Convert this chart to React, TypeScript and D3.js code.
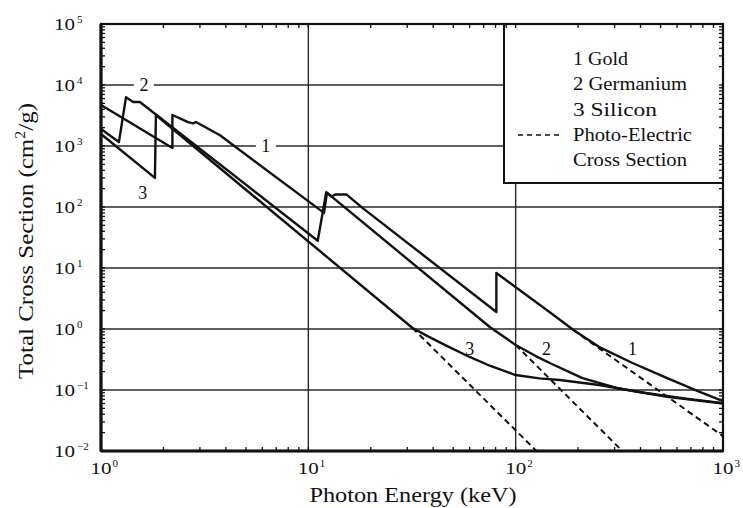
import * as d3 from 'd3';

// curves: [photon energy keV, cross section cm2/g]
const goldCurve: [number, number][] = [
  [1, 4700], [2.21, 930], [2.21, 3220], [2.63, 2470], [2.78, 2350], [2.87, 2470],
  [3.75, 1500], [11.9, 80], [12.3, 170], [12.9, 150], [13.5, 160], [15.3, 160],
  [18.3, 96], [80.7, 1.9], [80.7, 8.3], [150, 1.76], [190, 0.96], [252, 0.51],
  [366, 0.277], [538, 0.157], [772, 0.093], [1000, 0.066],
];
const germaniumCurve: [number, number][] = [
  [1, 1900], [1.22, 1160], [1.32, 6300], [1.43, 5250], [1.54, 5250], [11.1, 28],
  [12.2, 175], [75, 1.08], [100, 0.547], [125, 0.36], [146, 0.277], [210, 0.157],
  [307, 0.108], [538, 0.077], [1000, 0.06],
];
const siliconCurve: [number, number][] = [
  [1, 1570], [1.82, 300], [1.84, 3220], [31.8, 1.04], [38, 0.75], [45.5, 0.55],
  [60, 0.348], [75, 0.25], [100, 0.176], [130, 0.155], [163, 0.146], [253, 0.121],
  [400, 0.092], [650, 0.073], [1000, 0.061],
];

// photo-electric part (dashed)
const goldPhoto: [number, number][] = [[190, 0.96], [1000, 0.0175]];
const germaniumPhoto: [number, number][] = [[100, 0.547], [327, 0.01]];
const siliconPhoto: [number, number][] = [[31.8, 1.04], [126, 0.01]];

const xDecades = [0, 1, 2, 3];
const yDecades = [-2, -1, 0, 1, 2, 3, 4, 5];

const curveLabels: { text: string; e: number; s: number }[] = [
  { text: '2', e: 1.61, s: 1e4 },
  { text: '1', e: 6.24, s: 1e3 },
  { text: '3', e: 1.59, s: 170 },
  { text: '3', e: 60, s: 0.47 },
  { text: '2', e: 141, s: 0.47 },
  { text: '1', e: 366, s: 0.47 },
];

const legendItems = ['1 Gold', '2 Germanium', '3 Silicon', 'Photo-Electric', 'Cross Section'];
const legendWidths = [55, 114, 84, 119, 114];

const FONT = 'Liberation Serif, Times New Roman, serif';

export default function App() {
  const width = 743;
  const height = 508;
  const left = 101, right = 723, top = 24, bottom = 451;

  const x = d3.scaleLog().domain([1, 1000]).range([left, right]);
  const y = d3.scaleLog().domain([0.01, 1e5]).range([bottom, top]);
  const line = d3.line<[number, number]>().x(d => x(d[0])).y(d => y(d[1]));

  const xMinor = x.ticks().filter(t => t > 1 && t < 1000);
  const yMinor = y.ticks().filter(t => t > 0.01 && t < 1e5);

  const legend = { x0: 504, y0: top, x1: right, y1: 183 };

  return (
    <svg width={width} height={height} style={{ position: 'absolute', left: 0, top: 0, background: '#fff' }}>
      <rect width={width} height={height} fill="#fff" />
      <g style={{ fontFamily: FONT }}>

        {/* grid */}
        {yDecades.filter(k => k > -2 && k < 5).map(k => (
          <line key={'gy' + k} x1={left} x2={right} y1={y(10 ** k)} y2={y(10 ** k)}
            stroke="#2a2a2a" strokeWidth={1.4} />
        ))}
        {[10, 100].map(v => (
          <line key={'gx' + v} x1={x(v)} x2={x(v)} y1={top} y2={bottom} stroke="#2a2a2a" strokeWidth={1.4} />
        ))}

        {/* curves */}
        {[goldPhoto, germaniumPhoto, siliconPhoto].map((d, i) => (
          <path key={'p' + i} d={line(d) ?? ''} fill="none" stroke="#111" strokeWidth={2}
            strokeDasharray="6,4" />
        ))}
        {[goldCurve, germaniumCurve, siliconCurve].map((d, i) => (
          <path key={'c' + i} d={line(d) ?? ''} fill="none" stroke="#111" strokeWidth={2.4}
            strokeLinejoin="round" />
        ))}

        {/* curve numbers */}
        {curveLabels.map((l, i) => (
          <g key={'l' + i}>
            <rect x={x(l.e) - 10} y={y(l.s) - 8} width={20} height={16} fill="#fff" opacity={l.s >= 1e3 ? 1 : 0} />
            <text x={x(l.e)} y={y(l.s) + 6} textAnchor="middle" fontSize={18} fill="#111">{l.text}</text>
          </g>
        ))}

        {/* legend */}
        <rect x={legend.x0} y={legend.y0} width={legend.x1 - legend.x0} height={legend.y1 - legend.y0}
          fill="#fff" stroke="#111" strokeWidth={2} />
        {legendItems.map((t, i) => (
          <text key={t} x={573} y={65 + i * 25.3} fontSize={18} fill="#111"
            textLength={legendWidths[i]} lengthAdjust="spacingAndGlyphs">{t}</text>
        ))}
        <line x1={518} x2={560} y1={135} y2={135} stroke="#111" strokeWidth={1.5} strokeDasharray="5,4" />

        {/* frame and minor ticks */}
        {xMinor.map((t, i) => (
          <g key={'xt' + i}>
            <line x1={x(t)} x2={x(t)} y1={bottom} y2={bottom - 4} stroke="#111" strokeWidth={1.3} />
            <line x1={x(t)} x2={x(t)} y1={top} y2={top + 4} stroke="#111" strokeWidth={1.3} />
          </g>
        ))}
        {yMinor.map((t, i) => (
          <g key={'yt' + i}>
            <line x1={left} x2={left + 4} y1={y(t)} y2={y(t)} stroke="#111" strokeWidth={1.3} />
            <line x1={right} x2={right - 4} y1={y(t)} y2={y(t)} stroke="#111" strokeWidth={1.3} />
          </g>
        ))}
        <rect x={left} y={top} width={right - left} height={bottom - top} fill="none" stroke="#111" strokeWidth={2.2} />
        <line x1={left} x2={left} y1={top} y2={bottom} stroke="#111" strokeWidth={3.2} />
        <line x1={left} x2={right} y1={bottom} y2={bottom} stroke="#111" strokeWidth={3} />

        {/* y tick labels */}
        {yDecades.map(k => (
          <g key={'yl' + k} fill="#111">
            <text x={75} y={y(10 ** k) + 6} textAnchor="end" fontSize={16} textLength={21}
              lengthAdjust="spacingAndGlyphs">10</text>
            <text x={77} y={y(10 ** k) - 1} fontSize={11}>{k < 0 ? '\u2212' + -k : k}</text>
          </g>
        ))}

        {/* x tick labels */}
        {xDecades.map(k => (
          <g key={'xl' + k} fill="#111">
            <text x={x(10 ** k) - 10.5} y={474} fontSize={16} textLength={21}
              lengthAdjust="spacingAndGlyphs">10</text>
            <text x={x(10 ** k) + 11.5} y={467} fontSize={11}>{k}</text>
          </g>
        ))}

        {/* axis titles */}
        <text x={413} y={502} textAnchor="middle" fontSize={21} fill="#111" textLength={207}
          lengthAdjust="spacingAndGlyphs">Photon Energy (keV)</text>
        <text transform="translate(33,241) rotate(-90)" textAnchor="middle" fontSize={22} fill="#111"
          textLength={276} lengthAdjust="spacingAndGlyphs">
          Total Cross Section (cm<tspan dy={-8} fontSize={14}>2</tspan><tspan dy={8}>/g)</tspan>
        </text>
      </g>
    </svg>
  );
}
